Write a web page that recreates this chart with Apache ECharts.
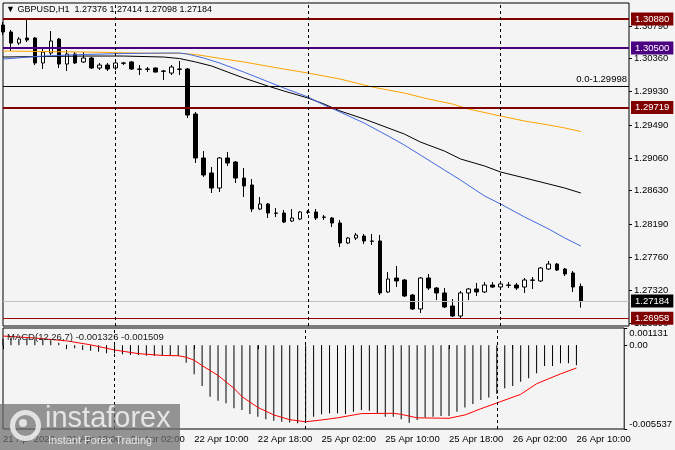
<!DOCTYPE html>
<html><head><meta charset="utf-8">
<script src="https://cdn.jsdelivr.net/npm/echarts@6/dist/echarts.min.js"></script>
<style>html,body{margin:0;padding:0;background:#F4F4F4;}#c{width:675px;height:450px;}</style>
</head><body><div id="c"></div>
<script>
// ---- time axis (H1 bars, weekend skipped) ----
const sessions = [['21 Apr', 10, 23], ['22 Apr', 0, 23], ['25 Apr', 0, 23], ['26 Apr', 0, 16]];
const firstDateLabel = '21 Apr 2022';
const daySeparators = ['22 Apr 00:00', '25 Apr 00:00', '26 Apr 00:00'];
const categories = [];
sessions.forEach(([d, h0, h1]) => { for (let h = h0; h <= h1; h++) categories.push(d + ' ' + String(h).padStart(2, '0') + ':00'); });

// ---- candles ----
const opens  = [1.30801,1.30710,1.30565,1.30631,1.30631,1.30304,1.30434,1.30618,1.30290,1.30421,1.30317,1.30369,1.30238,1.30277,1.30238,1.30304,1.30317,1.30225,1.30225,1.30238,1.30199,1.30172,1.30225,1.30225,1.29635,1.29059,1.28862,1.28665,1.29059,1.29006,1.28796,1.28705,1.28390,1.28456,1.28338,1.28338,1.28233,1.28259,1.28351,1.28351,1.28285,1.28272,1.28207,1.27945,1.28010,1.28036,1.27971,1.27971,1.27303,1.27486,1.27460,1.27263,1.27080,1.27486,1.27355,1.27290,1.27119,1.26988,1.27290,1.27342,1.27303,1.27394,1.27368,1.27394,1.27394,1.27368,1.27460,1.27447,1.27604,1.27669,1.27604,1.27552,1.27376];
const highs  = [1.30841,1.30736,1.30644,1.30867,1.30644,1.30513,1.30723,1.30631,1.30474,1.30448,1.30448,1.30382,1.30304,1.30304,1.30317,1.30317,1.30330,1.30277,1.30251,1.30244,1.30212,1.30277,1.30330,1.30238,1.29661,1.29150,1.28941,1.29072,1.29137,1.29019,1.28928,1.28783,1.28548,1.28469,1.28403,1.28377,1.28390,1.28364,1.28377,1.28390,1.28312,1.28285,1.28246,1.28023,1.28076,1.28063,1.28063,1.28050,1.27565,1.27643,1.27473,1.27276,1.27499,1.27538,1.27368,1.27355,1.27211,1.27316,1.27355,1.27421,1.27434,1.27434,1.27447,1.27434,1.27421,1.27486,1.27499,1.27630,1.27709,1.27683,1.27617,1.27578,1.27414];
const lows   = [1.30670,1.30461,1.30539,1.30579,1.30277,1.30225,1.30408,1.30238,1.30199,1.30290,1.30304,1.30225,1.30212,1.30199,1.30212,1.30277,1.30212,1.30146,1.30185,1.30179,1.30081,1.30146,1.30146,1.29583,1.28993,1.28810,1.28600,1.28613,1.28954,1.28731,1.28548,1.28351,1.28377,1.28272,1.28285,1.28207,1.28220,1.28246,1.28325,1.28246,1.28246,1.28154,1.27892,1.27932,1.27984,1.27932,1.27919,1.27263,1.27290,1.27368,1.27237,1.27067,1.27027,1.27329,1.27198,1.27093,1.26975,1.26958,1.27198,1.27250,1.27290,1.27355,1.27355,1.27355,1.27329,1.27290,1.27342,1.27434,1.27591,1.27578,1.27512,1.27303,1.27098];
const closes = [1.30710,1.30565,1.30618,1.30605,1.30304,1.30448,1.30592,1.30290,1.30421,1.30304,1.30369,1.30238,1.30277,1.30225,1.30304,1.30300,1.30225,1.30221,1.30221,1.30185,1.30195,1.30251,1.30221,1.29622,1.29059,1.28836,1.28665,1.29059,1.28993,1.28796,1.28692,1.28390,1.28456,1.28338,1.28334,1.28220,1.28272,1.28351,1.28347,1.28272,1.28281,1.28207,1.27945,1.28010,1.28049,1.27971,1.27967,1.27290,1.27473,1.27447,1.27250,1.27080,1.27486,1.27355,1.27290,1.27106,1.26988,1.27290,1.27342,1.27303,1.27394,1.27368,1.27408,1.27390,1.27355,1.27460,1.27456,1.27617,1.27669,1.27591,1.27539,1.27368,1.27184];

// ---- moving averages, read at bar indices [bar, price] ----
const maBluePts = [[0,1.30356],[5,1.30395],[10,1.30415],[15,1.30428],[20,1.30434],[22,1.30434],[23,1.30421],[24,1.30395],[25,1.30369],[27,1.30303],[30,1.30185],[35,1.29976],[38,1.29858],[40,1.29753],[42,1.29661],[45,1.29517],[48,1.29347],[50,1.29229],[52,1.29098],[55,1.28901],[57,1.28770],[60,1.28561],[62,1.28456],[65,1.28285],[68,1.28128],[70,1.28010],[72,1.27905]];
const maBlackPts = [[0,1.30382],[10,1.30395],[15,1.30395],[20,1.30382],[22,1.30362],[24,1.30317],[26,1.30264],[28,1.30185],[30,1.30107],[33,1.30002],[35,1.29937],[38,1.29845],[40,1.29766],[42,1.29675],[45,1.29570],[48,1.29452],[50,1.29373],[52,1.29268],[55,1.29150],[57,1.29046],[60,1.28954],[62,1.28875],[65,1.28797],[68,1.28718],[70,1.28665],[72,1.28600]];
const maOrangePts = [[0,1.30461],[12,1.30444],[18,1.30431],[22,1.30431],[24,1.30415],[27,1.30365],[30,1.30317],[35,1.30225],[38,1.30172],[42,1.30094],[46,1.29989],[50,1.29910],[53,1.29832],[56,1.29766],[58,1.29701],[62,1.29609],[65,1.29543],[68,1.29491],[70,1.29452],[72,1.29406]];

// ---- levels ----
const resistanceLevels = [1.30880, 1.29719];
const pivotLevel = 1.30500;
const fiboLevel = 1.29998;
const fiboText = '0.0';
const supportLevel = 1.26958;

// ---- axis ticks ----
const priceTicks = [1.26890,1.27320,1.27760,1.28190,1.28630,1.29060,1.29490,1.29930,1.30360,1.30790];
const macdTicks = [-0.005537, 0, 0.001131];

// ---- MACD(12,26,7) ----
const macdMain = [0.00042,0.00042,0.00042,0.00042,0.00040,0.00038,0.00030,0.00016,0.00003,-0.00021,-0.00032,-0.00037,-0.00043,-0.00054,-0.00054,-0.00061,-0.00065,-0.00065,-0.00070,-0.00072,-0.00072,-0.00072,-0.00072,-0.00116,-0.00193,-0.00270,-0.00341,-0.00367,-0.00384,-0.00417,-0.00428,-0.00455,-0.00473,-0.00490,-0.00499,-0.00506,-0.00510,-0.00516,-0.00494,-0.00473,-0.00457,-0.00450,-0.00450,-0.00455,-0.00440,-0.00428,-0.00433,-0.00450,-0.00473,-0.00473,-0.00490,-0.00512,-0.00494,-0.00477,-0.00473,-0.00468,-0.00468,-0.00440,-0.00411,-0.00389,-0.00362,-0.00345,-0.00323,-0.00285,-0.00270,-0.00242,-0.00219,-0.00186,-0.00138,-0.00138,-0.00120,-0.00120,-0.001326];
const macdSignalPts = [[0,0.00060],[4,0.00047],[8,0.00028],[11,0.00002],[14,-0.00032],[17,-0.00056],[20,-0.00068],[22,-0.00070],[23,-0.00080],[24,-0.00100],[25,-0.00135],[27,-0.00200],[29,-0.00285],[30,-0.00340],[32,-0.00411],[34,-0.00461],[36,-0.00492],[38,-0.00506],[40,-0.00494],[42,-0.00480],[45,-0.00452],[49,-0.00450],[50,-0.00457],[52,-0.00480],[56,-0.00483],[58,-0.00461],[60,-0.00420],[62,-0.00382],[65,-0.00325],[67,-0.00255],[70,-0.00190],[72,-0.001509]];

// ---- build ----
function sparse(pts) { const a = new Array(opens.length).fill(null); pts.forEach(([i, v]) => { a[i] = v; }); return a; }
const candleData = opens.map((o, i) => [o, closes[i], lows[i], highs[i]]);
const last = opens.length - 1;
const bid = closes[last];
const signalLast = macdSignalPts[macdSignalPts.length - 1][1];

const FONT = '"Liberation Sans", Arial, sans-serif';
const FS = 9.5;
const boxLabel = (txt, bg) => ({show: true, position: 'end', distance: 2, formatter: txt, color: '#fff', backgroundColor: bg, padding: [2, 4, 1, 4], fontSize: FS, fontFamily: FONT});
const sepLines = () => daySeparators.map(c => ({xAxis: c, lineStyle: {color: '#000', width: 1, type: [3, 3]}, label: {show: false}}));

const option = {
  animation: false,
  backgroundColor: '#F4F4F4',
  textStyle: {fontFamily: FONT, fontSize: FS, color: '#000'},
  title: [
    {text: '\u25BC GBPUSD,H1  ' + [opens[last], highs[last], lows[last], closes[last]].map(v => v.toFixed(5)).join(' '),
     left: 6, top: 5, padding: 0, textStyle: {fontSize: 9, fontWeight: 'normal', color: '#000', fontFamily: FONT}},
    {text: 'MACD(12,26,7) ' + macdMain[last].toFixed(6) + ' ' + signalLast.toFixed(6),
     left: 7, top: 332, padding: 0, textStyle: {fontSize: FS, fontWeight: 'normal', color: '#1a1a1a', fontFamily: FONT}}
  ],
  grid: [
    {left: 3, right: 46, top: 3, height: 323, show: true, borderColor: '#000', borderWidth: 1, backgroundColor: 'transparent'},
    {left: 3, right: 46, top: 328, height: 101, show: true, borderColor: '#000', borderWidth: 1, backgroundColor: 'transparent'}
  ],
  xAxis: [
    {type: 'category', gridIndex: 0, data: categories, boundaryGap: false,
     axisLine: {show: false}, axisTick: {show: false}, axisLabel: {show: false}, splitLine: {show: false}},
    {type: 'category', gridIndex: 1, data: categories, boundaryGap: false,
     axisLine: {show: false}, axisTick: {show: true, interval: 7, length: 4, lineStyle: {color: '#000'}},
     axisLabel: {interval: 7, align: 'left', margin: 5, color: '#000', fontSize: FS, fontFamily: FONT,
                 formatter: (v, i) => i === 0 ? firstDateLabel : v},
     splitLine: {show: false}}
  ],
  yAxis: [
    {type: 'value', gridIndex: 0, position: 'right', min: 1.26857, max: 1.31090, scale: true,
     axisLine: {show: false}, splitLine: {show: false},
     axisTick: {show: true, length: 3, customValues: priceTicks, lineStyle: {color: '#000'}},
     axisLabel: {customValues: priceTicks, formatter: v => v.toFixed(5), margin: 5, color: '#000', fontSize: FS, fontFamily: FONT}},
    {type: 'value', gridIndex: 1, position: 'right', min: macdTicks[0], max: macdTicks[2],
     axisLine: {show: false}, splitLine: {show: false},
     axisTick: {show: true, length: 3, customValues: macdTicks, lineStyle: {color: '#000'}},
     axisLabel: {customValues: macdTicks, formatter: v => v === 0 ? '0.00' : v.toFixed(6), margin: 5, color: '#000', fontSize: FS, fontFamily: FONT,
                 verticalAlignMinLabel: 'bottom', verticalAlignMaxLabel: 'top'}}
  ],
  graphic: [
    {type: 'rect', left: 0, top: 404, z: 100, shape: {width: 180, height: 46}, style: {fill: 'rgba(110,110,110,0.72)'}},
    {type: 'circle', left: 10, top: 410, z: 101, shape: {r: 13}, style: {fill: 'none', stroke: 'rgba(235,235,235,0.9)', lineWidth: 5}},
    {type: 'circle', left: 19, top: 419, z: 101, shape: {r: 4}, style: {fill: 'rgba(235,235,235,0.9)'}},
    {type: 'text', left: 45, top: 404, z: 101, style: {text: 'instaforex', fill: 'rgba(235,235,235,0.92)', font: '29px "Liberation Sans", Arial, sans-serif'}},
    {type: 'text', left: 48, top: 435, z: 101, style: {text: 'Instant Forex Trading', fill: 'rgba(235,235,235,0.92)', font: '11px "Liberation Sans", Arial, sans-serif'}}
  ],
  series: [
    {type: 'candlestick', xAxisIndex: 0, yAxisIndex: 0, data: candleData, barWidth: 4,
     itemStyle: {color: '#FFFFFF', color0: '#000000', borderColor: '#000000', borderColor0: '#000000', borderWidth: 1},
     markLine: {silent: true, precision: 5, symbol: ['none', 'none'], animation: false,
       data: [
         {yAxis: bid, lineStyle: {color: '#C0C0C0', width: 1, type: 'solid'}, label: boxLabel(bid.toFixed(5), '#000000')},
         ...resistanceLevels.map(v => ({yAxis: v, lineStyle: {color: '#800000', width: 2, type: 'solid'}, label: boxLabel(v.toFixed(5), '#800000')})),
         {yAxis: pivotLevel, lineStyle: {color: '#4B0082', width: 2, type: 'solid'}, label: boxLabel(pivotLevel.toFixed(5), '#4B0082')},
         {yAxis: fiboLevel, lineStyle: {color: '#000', width: 1, type: 'solid'},
          label: {show: true, position: 'insideEndTop', distance: 2, formatter: fiboText + '-' + fiboLevel.toFixed(5), color: '#000', fontSize: FS, fontFamily: FONT}},
         {yAxis: supportLevel, lineStyle: {color: '#990000', width: 1, type: 'solid'}, label: boxLabel(supportLevel.toFixed(5), '#800000')},
         ...sepLines()
       ]}},
    {type: 'line', xAxisIndex: 0, yAxisIndex: 0, data: sparse(maOrangePts), connectNulls: true, symbol: 'none', lineStyle: {color: '#FFA500', width: 1}},
    {type: 'line', xAxisIndex: 0, yAxisIndex: 0, data: sparse(maBlackPts), connectNulls: true, symbol: 'none', lineStyle: {color: '#000000', width: 1}},
    {type: 'line', xAxisIndex: 0, yAxisIndex: 0, data: sparse(maBluePts), connectNulls: true, symbol: 'none', lineStyle: {color: '#4169E1', width: 1}},
    {type: 'bar', xAxisIndex: 1, yAxisIndex: 1, data: macdMain, barWidth: 1, itemStyle: {color: '#000'},
     markLine: {silent: true, symbol: ['none', 'none'], animation: false, data: sepLines()}},
    {type: 'line', xAxisIndex: 1, yAxisIndex: 1, data: sparse(macdSignalPts), connectNulls: true, symbol: 'none', lineStyle: {color: '#FF0000', width: 1}}
  ]
};
const chart = echarts.init(document.getElementById('c'), null, {renderer: 'canvas'});
chart.setOption(option);
</script></body></html>
